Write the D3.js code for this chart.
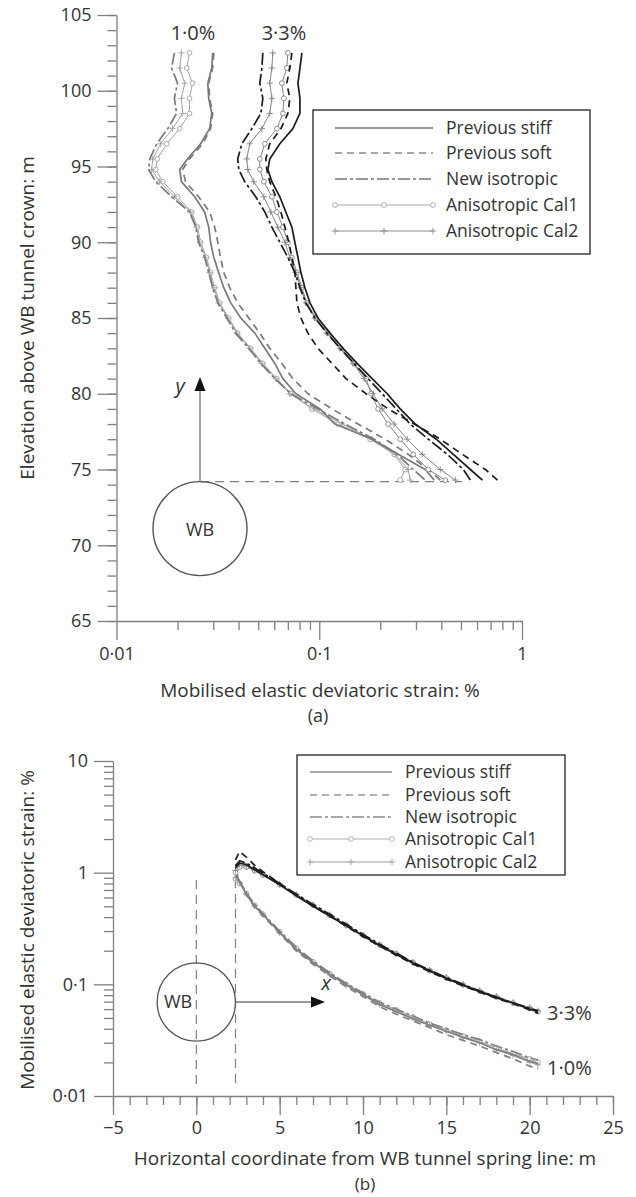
<!DOCTYPE html>
<html>
<head>
<meta charset="utf-8">
<script src="https://cdn.jsdelivr.net/npm/d3@7"></script>
<style>
  body { margin: 0; background: #fff; }
  text { font-family: "Open Sans", "DejaVu Sans", sans-serif; fill: #333; }
</style>
</head>
<body>
<svg id="chart" width="636" height="1197"></svg>
<script>
// ---------- Panel (a): strain profile above the WB tunnel crown ----------
const elevA = [102.5, 101.5, 100.5, 99.5, 98.5, 97.5, 96.5, 95.5, 94.8, 94, 93, 92, 91, 90, 89, 88, 87, 86, 85, 84, 83, 82, 81, 80, 79, 78, 77, 76, 75, 74.3];

// 1.0% volume loss
const stiff10 = [0.0298,0.0295,0.0282,0.0285,0.0295,0.0288,0.0260,0.0224,0.0205,0.0209,0.0243,0.0272,0.0285,0.0291,0.0302,0.0319,0.0338,0.0366,0.0410,0.0481,0.0539,0.0604,0.0662,0.0767,0.1008,0.1196,0.1823,0.2451,0.3333,0.3693];
const soft10  = [0.0302,0.0298,0.0285,0.0288,0.0298,0.0291,0.0266,0.0229,0.0212,0.0219,0.0254,0.0288,0.0305,0.0316,0.0326,0.0338,0.0362,0.0396,0.0449,0.0509,0.0570,0.0654,0.0741,0.0879,0.1156,0.1554,0.2114,0.2746,0.3449,0.3954];
const iso10   = [0.0193,0.0187,0.0200,0.0193,0.0198,0.0179,0.0158,0.0146,0.0144,0.0156,0.0187,0.0229,0.0246,0.0254,0.0272,0.0285,0.0298,0.0316,0.0350,0.0387,0.0449,0.0515,0.0604,0.0725,0.0985,0.1340,0.1865,0.2423,0.2908,0.3333];
const cal1_10 = [0.0229,0.0222,0.0237,0.0229,0.0229,0.0205,0.0177,0.0159,0.0156,0.0169,0.0200,0.0235,0.0251,0.0260,0.0278,0.0291,0.0305,0.0323,0.0358,0.0396,0.0459,0.0527,0.0618,0.0725,0.0920,0.1237,0.1782,0.2342,0.2654,0.2508];
const cal2_10 = [0.0209,0.0205,0.0217,0.0209,0.0212,0.0189,0.0165,0.0151,0.0149,0.0163,0.0193,0.0232,0.0248,0.0257,0.0275,0.0288,0.0302,0.0319,0.0354,0.0392,0.0454,0.0521,0.0611,0.0716,0.0942,0.1295,0.1823,0.2369,0.2746,0.2810];

// 3.3% volume loss
const stiff33 = [0.0821,0.0803,0.0785,0.0803,0.0803,0.0741,0.0639,0.0570,0.0558,0.0584,0.0639,0.0684,0.0733,0.0758,0.0785,0.0812,0.0850,0.0900,0.0985,0.1130,0.1310,0.1537,0.1823,0.2163,0.2508,0.2975,0.3778,0.4585,0.5564,0.6378];
const soft33  = [0.0733,0.0716,0.0692,0.0716,0.0700,0.0647,0.0570,0.0545,0.0551,0.0570,0.0611,0.0647,0.0677,0.0708,0.0733,0.0758,0.0767,0.0776,0.0812,0.0879,0.0985,0.1156,0.1355,0.1702,0.2187,0.2941,0.3954,0.5080,0.6601,0.7570];
const iso33   = [0.0527,0.0521,0.0509,0.0527,0.0515,0.0465,0.0415,0.0396,0.0401,0.0429,0.0486,0.0539,0.0584,0.0639,0.0700,0.0758,0.0803,0.0859,0.0952,0.1092,0.1266,0.1485,0.1741,0.2043,0.2396,0.2810,0.3449,0.4282,0.5138,0.5564];
const cal1_33 = [0.0700,0.0692,0.0654,0.0669,0.0662,0.0618,0.0539,0.0509,0.0509,0.0533,0.0584,0.0618,0.0662,0.0700,0.0733,0.0776,0.0821,0.0869,0.0963,0.1104,0.1280,0.1485,0.1702,0.1802,0.1951,0.2187,0.2508,0.2908,0.3449,0.4186];
const cal2_33 = [0.0590,0.0584,0.0570,0.0584,0.0570,0.0521,0.0454,0.0439,0.0444,0.0475,0.0533,0.0577,0.0625,0.0677,0.0716,0.0767,0.0812,0.0859,0.0952,0.1092,0.1266,0.1468,0.1664,0.1844,0.2043,0.2342,0.2715,0.3222,0.3954,0.4691];

// ---------- Panel (b): strain along the spring line ----------
const distB = [2.35, 2.6, 3, 3.5, 4, 5, 6, 7, 8, 9, 10, 11, 12, 13, 14, 15, 16, 17, 18, 19, 20, 20.5];

const bStiff33 = [1.10,1.22,1.18,1.06,0.96,0.78,0.62,0.50,0.41,0.335,0.272,0.222,0.185,0.155,0.132,0.113,0.098,0.086,0.076,0.068,0.060,0.057];
const bSoft33  = [1.30,1.55,1.38,1.16,1.02,0.80,0.63,0.505,0.41,0.33,0.268,0.220,0.182,0.152,0.130,0.111,0.097,0.085,0.075,0.067,0.059,0.055];
const bIso33   = [1.15,1.28,1.22,1.10,0.99,0.80,0.64,0.52,0.425,0.345,0.280,0.228,0.190,0.158,0.134,0.115,0.100,0.087,0.077,0.068,0.061,0.058];
const bCal1_33 = [1.00,1.12,1.12,1.04,0.95,0.78,0.63,0.51,0.415,0.338,0.275,0.226,0.188,0.157,0.133,0.114,0.099,0.087,0.077,0.068,0.061,0.057];
const bCal2_33 = [1.05,1.17,1.15,1.05,0.96,0.79,0.635,0.515,0.42,0.34,0.276,0.227,0.189,0.158,0.134,0.115,0.100,0.088,0.078,0.069,0.062,0.058];

const bStiff10 = [0.95,0.82,0.64,0.50,0.42,0.29,0.205,0.157,0.123,0.099,0.081,0.066,0.057,0.049,0.043,0.038,0.0335,0.030,0.026,0.0235,0.0205,0.0195];
const bSoft10  = [1.05,0.85,0.64,0.49,0.41,0.285,0.200,0.152,0.119,0.095,0.078,0.063,0.054,0.047,0.041,0.0355,0.0315,0.028,0.0245,0.0215,0.0185,0.0175];
const bIso10   = [0.98,0.84,0.66,0.52,0.43,0.30,0.215,0.162,0.127,0.102,0.084,0.069,0.060,0.052,0.045,0.040,0.0355,0.032,0.028,0.025,0.022,0.021];
const bCal1_10 = [0.88,0.80,0.65,0.51,0.425,0.295,0.210,0.159,0.125,0.100,0.082,0.068,0.059,0.051,0.044,0.039,0.0345,0.031,0.027,0.024,0.0215,0.020];
const bCal2_10 = [0.90,0.81,0.645,0.505,0.42,0.29,0.207,0.157,0.123,0.098,0.080,0.066,0.057,0.050,0.043,0.038,0.0335,0.030,0.026,0.023,0.020,0.019];

// ---------- tick values and labels ----------
const legendLabels = ["Previous stiff", "Previous soft", "New isotropic", "Anisotropic Cal1", "Anisotropic Cal2"];
const elevMajor = [65, 70, 75, 80, 85, 90, 95, 100, 105];
const strainMajorA = [0.01, 0.1, 1];
const strainMajorB = [0.01, 0.1, 1, 10];
const distMajor = [-5, 0, 5, 10, 15, 20, 25];

const svg = d3.select("#chart");
const AXIS = "#808080";
const TICK_FONT = "18px", TITLE_FONT = "19px", LEGEND_FONT = "17.5px", NOTE_FONT = "20px";

// line styles shared by both panels
const DASH = { stiff: null, soft: "7,5", iso: "12,3,3,3", cal1: null, cal2: null };

function logMinor(lo, hi) {
  const out = [];
  for (let p = lo; p < hi; p *= 10)
    for (let k = 2; k <= 9; k++) out.push(+(p * k).toPrecision(3));
  return out;
}
const fmtDot = d => String(d).replace(".", "\u00B7");

function styleAxis(g) {
  g.selectAll(".domain").attr("stroke", AXIS).attr("stroke-width", 1.3);
  g.selectAll(".tick line").attr("stroke", AXIS).attr("stroke-width", 1.3);
  g.selectAll(".tick text").style("font-family", '"Open Sans", sans-serif')
    .style("font-size", TICK_FONT).attr("fill", "#333");
}

function drawMarkers(g, pts, kind, color) {
  if (kind === "cal1") {
    g.selectAll(null).data(pts).join("circle")
      .attr("cx", d => d[0]).attr("cy", d => d[1]).attr("r", 2.4)
      .attr("fill", "#fff").attr("stroke", color).attr("stroke-width", 0.9);
  } else if (kind === "cal2") {
    g.selectAll(null).data(pts).join("path")
      .attr("d", d => `M${d[0] - 3.2},${d[1]}H${d[0] + 3.2}M${d[0]},${d[1] - 3.2}V${d[1] + 3.2}`)
      .attr("stroke", color).attr("stroke-width", 0.9).attr("fill", "none");
  }
}

function drawSeries(g, pts, kind, color, width) {
  g.append("path")
    .attr("d", d3.line()(pts))
    .attr("fill", "none")
    .attr("stroke", color)
    .attr("stroke-width", width)
    .attr("stroke-linejoin", "round")
    .attr("stroke-dasharray", DASH[kind]);
  drawMarkers(g, pts, kind, color);
}

function drawLegend(box, lineX0, lineX1, textX, rowY, colors) {
  const g = svg.append("g");
  g.append("rect").attr("x", box[0]).attr("y", box[1]).attr("width", box[2]).attr("height", box[3])
    .attr("fill", "#fff").attr("stroke", "#222").attr("stroke-width", 1.3);
  const kinds = ["stiff", "soft", "iso", "cal1", "cal2"];
  kinds.forEach((k, i) => {
    const y = rowY[i];
    g.append("line").attr("x1", lineX0).attr("x2", lineX1).attr("y1", y).attr("y2", y)
      .attr("stroke", colors[k]).attr("stroke-width", k.startsWith("cal") ? 1 : 1.6)
      .attr("stroke-dasharray", DASH[k]);
    drawMarkers(g, [[lineX0, y], [(lineX0 + lineX1) / 2, y], [lineX1, y]], k, colors[k]);
    g.append("text").attr("x", textX).attr("y", y + 6).style("font-size", LEGEND_FONT).text(legendLabels[i]);
  });
}

// ===================== Panel (a) =====================
const xA = d3.scaleLog().domain([0.01, 1]).range([116.5, 522]);
const yA = d3.scaleLinear().domain([65, 105]).range([621, 15]);

const yAxisA = svg.append("g").attr("transform", "translate(116.5,0)");
yAxisA.call(d3.axisLeft(yA).tickValues(d3.range(65, 106, 1)).tickSize(9).tickFormat("").tickSizeOuter(0));
yAxisA.append("g").call(d3.axisLeft(yA).tickValues(elevMajor).tickSize(19).tickPadding(6).tickSizeOuter(0))
  .select(".domain").remove();
styleAxis(yAxisA);

const xAxisA = svg.append("g").attr("transform", "translate(0,621)");
xAxisA.call(d3.axisBottom(xA).tickValues(logMinor(0.01, 1)).tickSize(9).tickFormat("").tickSizeOuter(0));
xAxisA.append("g").call(d3.axisBottom(xA).tickValues(strainMajorA).tickSize(19).tickPadding(7).tickFormat(fmtDot).tickSizeOuter(0))
  .select(".domain").remove();
styleAxis(xAxisA);

// tunnel sketch
const crownY = yA(74.2);
svg.append("line").attr("x1", 200).attr("x2", 462).attr("y1", crownY).attr("y2", crownY)
  .attr("stroke", "#808080").attr("stroke-width", 1.3).attr("stroke-dasharray", "9,6");
svg.append("circle").attr("cx", 200).attr("cy", crownY + 47).attr("r", 47)
  .attr("fill", "none").attr("stroke", "#555").attr("stroke-width", 1.4);
svg.append("text").attr("x", 200).attr("y", crownY + 54).attr("text-anchor", "middle")
  .style("font-size", "18px").text("WB");
svg.append("line").attr("x1", 200).attr("x2", 200).attr("y1", crownY).attr("y2", 390)
  .attr("stroke", "#888").attr("stroke-width", 1.6);
svg.append("path").attr("d", "M200,377 L194.5,391 L205.5,391 Z").attr("fill", "#111");
svg.append("text").attr("x", 180).attr("y", 393).attr("text-anchor", "middle")
  .style("font-size", NOTE_FONT).style("font-style", "italic").text("y");

// curves
const gA = svg.append("g");
const ptsA = arr => arr.map((v, i) => [xA(v), yA(elevA[i])]);
const G10 = "#7a7a7a", G10L = "#a3a3a3", K33 = "#1c1c1c", G33 = "#858585";
drawSeries(gA, ptsA(cal1_10), "cal1", G10L, 1);
drawSeries(gA, ptsA(cal2_10), "cal2", G10L, 1);
drawSeries(gA, ptsA(iso10), "iso", G10, 1.7);
drawSeries(gA, ptsA(soft10), "soft", G10, 1.7);
drawSeries(gA, ptsA(stiff10), "stiff", G10, 1.7);
drawSeries(gA, ptsA(cal1_33), "cal1", G33, 1);
drawSeries(gA, ptsA(cal2_33), "cal2", G33, 1);
drawSeries(gA, ptsA(iso33), "iso", K33, 1.7);
drawSeries(gA, ptsA(soft33), "soft", K33, 1.7);
drawSeries(gA, ptsA(stiff33), "stiff", K33, 1.7);

svg.append("text").attr("x", 193).attr("y", 40).attr("text-anchor", "middle").style("font-size", NOTE_FONT).text("1\u00B70%");
svg.append("text").attr("x", 284).attr("y", 40).attr("text-anchor", "middle").style("font-size", NOTE_FONT).text("3\u00B73%");

drawLegend([313, 110, 277, 144], 335, 433, 446, [128, 153, 179, 205, 231],
  { stiff: "#777", soft: "#8c8c8c", iso: "#777", cal1: "#a8a8a8", cal2: "#8c8c8c" });

svg.append("text").attr("transform", "translate(34,318) rotate(-90)").attr("text-anchor", "middle")
  .style("font-size", TITLE_FONT).text("Elevation above WB tunnel crown: m");
svg.append("text").attr("x", 320).attr("y", 697).attr("text-anchor", "middle")
  .style("font-size", TITLE_FONT).text("Mobilised elastic deviatoric strain: %");
svg.append("text").attr("x", 318).attr("y", 722).attr("text-anchor", "middle")
  .style("font-size", "18px").text("(a)");

// ===================== Panel (b) =====================
const xB = d3.scaleLinear().domain([-5, 25]).range([113, 613]);
const yB = d3.scaleLog().domain([0.01, 10]).range([1096, 761]);

const yAxisB = svg.append("g").attr("transform", "translate(113,0)");
yAxisB.call(d3.axisLeft(yB).tickValues(logMinor(0.01, 10)).tickSize(9).tickFormat("").tickSizeOuter(0));
yAxisB.append("g").call(d3.axisLeft(yB).tickValues(strainMajorB).tickSize(19).tickPadding(6).tickFormat(fmtDot).tickSizeOuter(0))
  .select(".domain").remove();
styleAxis(yAxisB);

const xAxisB = svg.append("g").attr("transform", "translate(0,1096)");
xAxisB.call(d3.axisBottom(xB).tickValues(d3.range(-5, 26, 1)).tickSize(9).tickFormat("").tickSizeOuter(0));
xAxisB.append("g").call(d3.axisBottom(xB).tickValues(distMajor).tickSize(19).tickPadding(6)
  .tickFormat(d => d < 0 ? "\u2212" + Math.abs(d) : String(d)).tickSizeOuter(0))
  .select(".domain").remove();
styleAxis(xAxisB);

// tunnel sketch and reference lines
const springX = xB(2.35);
svg.append("line").attr("x1", xB(0)).attr("x2", xB(0)).attr("y1", 880).attr("y2", 1085)
  .attr("stroke", "#808080").attr("stroke-width", 1.2).attr("stroke-dasharray", "9,6");
svg.append("line").attr("x1", springX).attr("x2", springX).attr("y1", 864).attr("y2", 1085)
  .attr("stroke", "#808080").attr("stroke-width", 1.2).attr("stroke-dasharray", "9,6");
svg.append("circle").attr("cx", xB(0)).attr("cy", 1002).attr("r", springX - xB(0))
  .attr("fill", "none").attr("stroke", "#555").attr("stroke-width", 1.3);
svg.append("text").attr("x", 178).attr("y", 1008).attr("text-anchor", "middle")
  .style("font-size", "18px").text("WB");
svg.append("line").attr("x1", springX).attr("x2", 313).attr("y1", 1002).attr("y2", 1002)
  .attr("stroke", "#777").attr("stroke-width", 1.4);
svg.append("path").attr("d", "M325,1002 L311,996.5 L311,1007.5 Z").attr("fill", "#111");
svg.append("text").attr("x", 326).attr("y", 990).attr("text-anchor", "middle")
  .style("font-size", NOTE_FONT).style("font-style", "italic").text("x");

const gB = svg.append("g");
const ptsB = arr => arr.map((v, i) => [xB(distB[i]), yB(v)]);
const B10 = "#808080", B10L = "#a0a0a0", B33 = "#1c1c1c", B33L = "#8a8a8a";
drawSeries(gB, ptsB(bCal1_10), "cal1", B10L, 1);
drawSeries(gB, ptsB(bCal2_10), "cal2", B10L, 1);
drawSeries(gB, ptsB(bIso10), "iso", B10, 1.7);
drawSeries(gB, ptsB(bSoft10), "soft", B10, 1.7);
drawSeries(gB, ptsB(bStiff10), "stiff", B10, 1.7);
drawSeries(gB, ptsB(bCal1_33), "cal1", B33L, 1);
drawSeries(gB, ptsB(bCal2_33), "cal2", B33L, 1);
drawSeries(gB, ptsB(bIso33), "iso", B33, 1.7);
drawSeries(gB, ptsB(bSoft33), "soft", B33, 1.7);
drawSeries(gB, ptsB(bStiff33), "stiff", B33, 1.7);

svg.append("text").attr("x", 547).attr("y", 1020).style("font-size", NOTE_FONT).text("3\u00B73%");
svg.append("text").attr("x", 547).attr("y", 1075).style("font-size", NOTE_FONT).text("1\u00B70%");

drawLegend([297, 755, 268, 120], 310, 392, 405, [772, 795, 817, 839, 862],
  { stiff: "#8c8c8c", soft: "#999", iso: "#8c8c8c", cal1: "#b0b0b0", cal2: "#a0a0a0" });

svg.append("text").attr("transform", "translate(34,930) rotate(-90)").attr("text-anchor", "middle")
  .style("font-size", TITLE_FONT).text("Mobilised elastic deviatoric strain: %");
svg.append("text").attr("x", 365).attr("y", 1165).attr("text-anchor", "middle")
  .style("font-size", TITLE_FONT).text("Horizontal coordinate from WB tunnel spring line: m");
svg.append("text").attr("x", 365).attr("y", 1190).attr("text-anchor", "middle")
  .style("font-size", "17px").text("(b)");
</script>
</body>
</html>
